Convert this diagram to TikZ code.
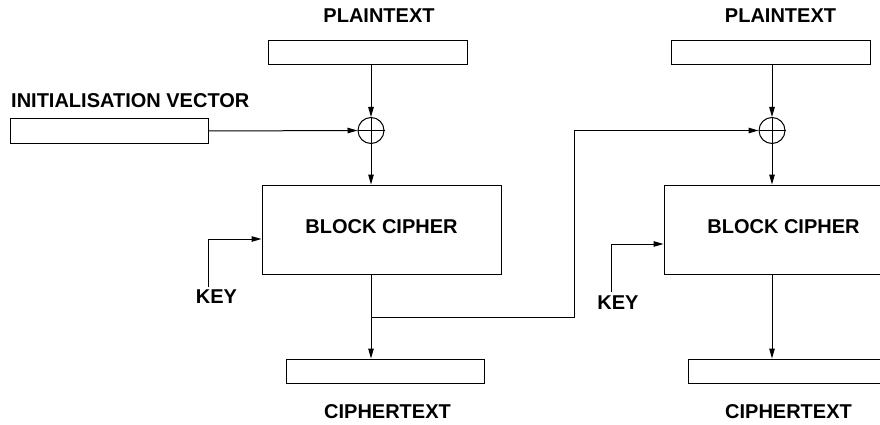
\documentclass[tikz,border=0pt]{standalone}
\usepackage{fontspec}
\setmainfont{Liberation Sans}
\usetikzlibrary{arrows.meta}
\begin{document}
\begin{tikzpicture}[x=1pt,y=-1pt,
  wire/.style={line width=1pt, draw=black},
  arr/.style={wire, -{Triangle[length=10pt,width=5.5pt]}},
  field/.style={draw=black, line width=1pt, rectangle, inner sep=0pt,
    minimum width=199pt, minimum height=24pt},
  cipherbox/.style={draw=black, line width=1pt, rectangle, inner sep=0pt,
    minimum width=239pt, minimum height=89pt},
  xorgate/.style={draw=black, circle, line width=1pt, inner sep=0pt, minimum size=26pt},
  lbl/.style={font=\fontsize{20}{24}\selectfont\bfseries, inner sep=0pt, anchor=base},
]
\useasboundingbox (0,0) rectangle (880,425);
\clip (0,0) rectangle (880,425);

% first stage
\node[field] (pt1) at (367.5,52.5) {};
\node[lbl] (pt1t) at (379,23) {PLAINTEXT};
\node[xorgate] (x1) at (371,130.5) {};
\node[field, minimum width=198pt] (iv) at (109,131) {};
\node[lbl, anchor=base west] (ivt) at (11,107) {INITIALISATION VECTOR};
\node[cipherbox] (bc1) at (381.5,229.5) {};
\node[lbl] (bc1t) at (381.5,233) {BLOCK CIPHER};
\node[field, minimum width=198pt] (ct1) at (385,371) {};
\node[lbl] (ct1t) at (387.5,418) {CIPHERTEXT};
\coordinate (k1) at (208,287);
\coordinate (k1c) at (208,239);
\node[lbl] (k1t) at (216.5,303) {KEY};
\coordinate (tap) at (371,317);
\coordinate (up) at (574,317);

% second stage
\node[field] (pt2) at (770.5,52.5) {};
\node[lbl] (pt2t) at (780.5,23) {PLAINTEXT};
\node[xorgate] (x2) at (772,130.5) {};
\node[cipherbox] (bc2) at (783.5,229.5) {};
\node[lbl] (bc2t) at (783.5,233) {BLOCK CIPHER};
\node[field, minimum width=198pt] (ct2) at (787,371) {};
\node[lbl] (ct2t) at (788.5,418) {CIPHERTEXT};
\coordinate (k2) at (611,292);
\coordinate (k2c) at (611,244);
\node[lbl] (k2t) at (618,309) {KEY};

% xor crosses
\draw[wire] (x1.north) -- (x1.south) (x1.west) -- (x1.east);
\draw[wire] (x2.north) -- (x2.south) (x2.west) -- (x2.east);

% first stage connectors
\draw[arr] (x1 |- pt1.south) -- (x1.north);
\draw[arr] (iv.east) -- (x1.west);
\draw[arr] (x1.south) -- (x1 |- bc1.north);
\draw[arr] (k1) -- (k1c) -- (k1c -| bc1.west);
\draw[arr] (x1 |- bc1.south) -- (x1 |- ct1.north);
\draw[arr] (tap) -- (up) -- (up |- x2) -- (x2.west);

% second stage connectors
\draw[arr] (x2 |- pt2.south) -- (x2.north);
\draw[arr] (x2.south) -- (x2 |- bc2.north);
\draw[arr] (x2 |- bc2.south) -- (x2 |- ct2.north);
\draw[arr] (k2) -- (k2c) -- (k2c -| bc2.west);
\end{tikzpicture}
\end{document}
